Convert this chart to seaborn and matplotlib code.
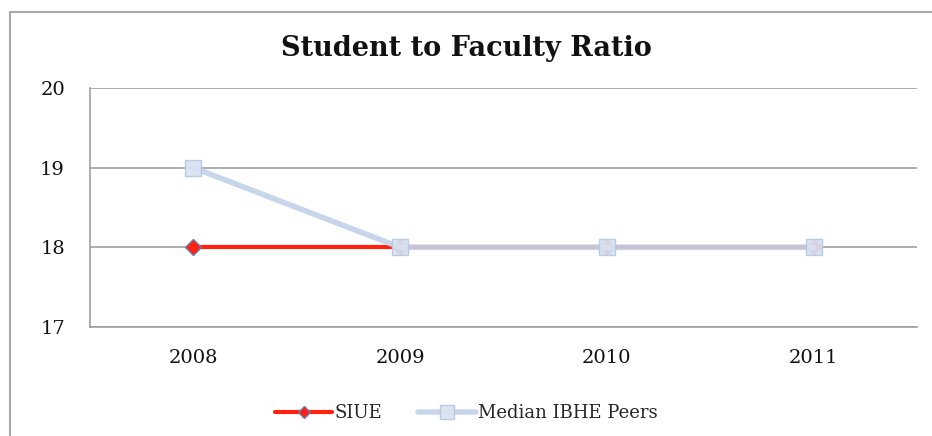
import matplotlib
matplotlib.use("Agg")
import matplotlib.pyplot as plt
import seaborn as sns
import pandas as pd
from matplotlib.patches import Rectangle

years = ["2008", "2009", "2010", "2011"]
siue = [18, 18, 18, 18]
median_peers = [19, 18, 18, 18]
series_names = ["SIUE", "Median IBHE Peers"]
yticks = [17, 18, 19, 20]

sns.set_theme(style="white")
plt.rcParams['font.family'] = ['DejaVu Serif', 'Liberation Serif']

fig = plt.figure(figsize=(9.32, 4.36), dpi=100)
ax = fig.add_axes([90/932, 1-327/436, (917-90)/932, (327-88)/436])

df1 = pd.DataFrame({"year": years, "value": siue})
df2 = pd.DataFrame({"year": years, "value": median_peers})

sns.lineplot(data=df1, x="year", y="value", ax=ax, color="#FF2010", linewidth=3,
             marker="D", markersize=8, markerfacecolor="#FF2010",
             markeredgecolor="#6A7BB0", markeredgewidth=1, label=series_names[0],
             zorder=3)
sns.lineplot(data=df2, x="year", y="value", ax=ax, color="#C3D3EA", linewidth=4,
             marker="s", markersize=12, markerfacecolor="#D9E2F0",
             markeredgecolor="#B5C8E3", markeredgewidth=1, label=series_names[1],
             alpha=0.92, zorder=4)

ax.set_xlim(-0.5, 3.5)
ax.set_ylim(17, 20)
ax.set_yticks(yticks)
ax.set_yticklabels([str(t) for t in yticks])
ax.yaxis.grid(True, color="#A0A0A0", linewidth=1.2)
ax.set_axisbelow(True)
ax.set_xlabel("")
ax.set_ylabel("")
for s in ["top", "right"]:
    ax.spines[s].set_visible(False)
for s in ["left", "bottom"]:
    ax.spines[s].set_color("#A0A0A0")
    ax.spines[s].set_linewidth(1.2)
ax.tick_params(axis="y", length=0, pad=18, labelsize=14, colors="#111111")
ax.tick_params(axis="x", length=0, pad=16, labelsize=14, colors="#111111")

fig.text(0.5, 1-48/436, "Student to Faculty Ratio", ha="center", va="center",
         fontsize=19.5, fontweight="bold", color="#111111")

leg = ax.legend(loc="center", bbox_to_anchor=(0.5, 1-413/436), bbox_transform=fig.transFigure,
                ncol=2, frameon=False, fontsize=13, handlelength=3.2, columnspacing=2,
                handletextpad=0.1, markerscale=0.8)

fig.patches.append(Rectangle((10/932, -0.1), 1.2, 1-12/436+0.1, transform=fig.transFigure,
                             fill=False, edgecolor="#A8A8A8", linewidth=1.5, zorder=0))

fig.savefig("out.png", dpi=100)
